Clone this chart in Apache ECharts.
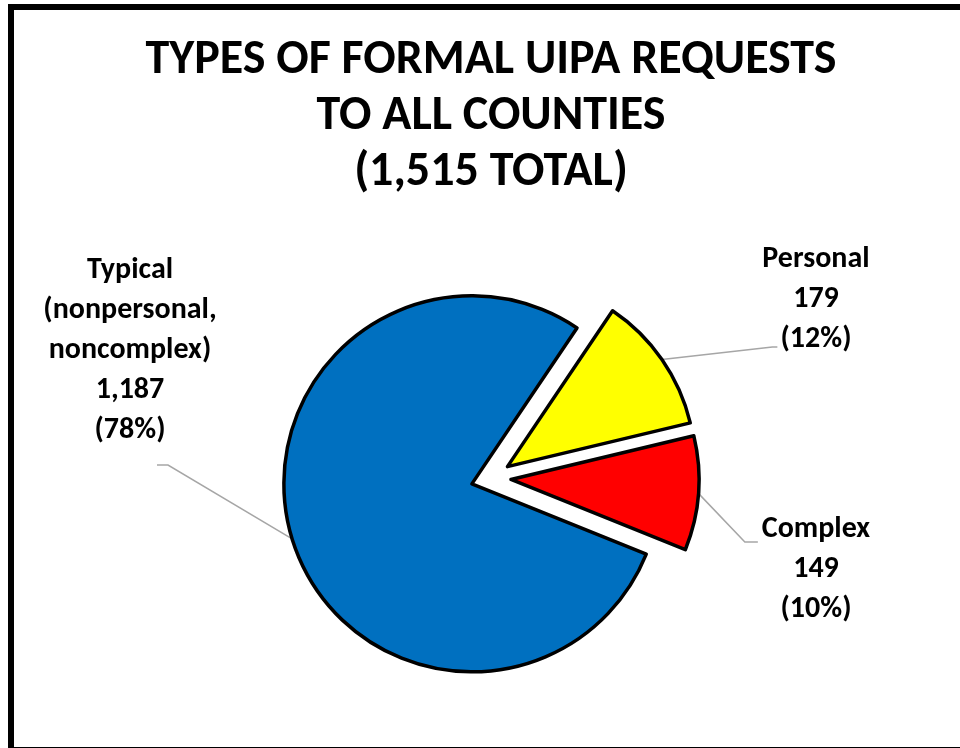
<!DOCTYPE html>
<html>
<head>
<meta charset="utf-8">
<script src="https://cdn.jsdelivr.net/npm/echarts@6/dist/echarts.min.js"></script>
<style>
  html, body { margin: 0; padding: 0; background: #fff; }
  #chart { width: 960px; height: 748px; }
</style>
</head>
<body>
<div id="chart"></div>
<script>
// data, in clockwise order starting from the top-right
const categories = ['Personal', 'Complex', 'Typical\n(nonpersonal,\nnoncomplex)'];
const counts = [179, 149, 1187];
const sliceColors = ['#ffff00', '#ff0000', '#0070c0'];
const titleText = 'TYPES OF FORMAL UIPA REQUESTS\nTO ALL COUNTIES\n(1,515 TOTAL)';

// where each label block sits (centre of the text)
const labelPos = [[816, 299], [816, 569], [130, 350]];

const FONT = 'Carlito, "Open Sans", sans-serif';
const CX = 491, CY = 478, R = 188, START = 56, EXPLODE = 20;

const chart = echarts.init(document.getElementById('chart'));

const total = counts.reduce(function (a, b) { return a + b; }, 0);

// leader line ends, worked out from the moved label box
function leaderEnds(i, r) {
  const left = r.x, top = r.y, bottom = r.y + r.height, cx = r.x + r.width / 2;
  if (i === 0) return [[left + 10, bottom - 12], [left + 15, bottom - 12]];
  if (i === 1) return [[left - 17, top + 33], [left - 4, top + 33]];
  return [[cx + 38, bottom + 15], [cx + 27, bottom + 15]];
}

// every slice is pulled out from the centre along its own mid angle,
// so each one gets its own pie series with the others left invisible
const series = [];
let before = 0;
counts.forEach(function (v, i) {
  const mid = (START - (before + v / 2) / total * 360) * Math.PI / 180;
  before += v;
  series.push({
    type: 'pie',
    z: 2,
    center: [CX + EXPLODE * Math.cos(mid), CY - EXPLODE * Math.sin(mid)],
    radius: R,
    startAngle: START,
    clockwise: true,
    avoidLabelOverlap: false,
    silent: true,
    emphasis: { disabled: true },
    label: {
      show: true,
      position: 'outside',
      fontFamily: FONT,
      fontWeight: 'bold',
      fontSize: 30,
      lineHeight: 40,
      color: '#000',
      align: 'center',
      formatter: function (p) {
        return p.name + '\n' + p.value.toLocaleString('en-US') + '\n(' + Math.round(p.percent) + '%)';
      }
    },
    labelLine: {
      show: true,
      length: 20,
      length2: 20,
      lineStyle: { color: '#a6a6a6', width: 1.5 }
    },
    labelLayout: function (params) {
      const p = labelPos[params.dataIndex];
      const w = params.labelRect.width, h = params.labelRect.height;
      const box = { x: p[0] - w / 2, y: p[1] - h / 2, width: w, height: h };
      const out = { x: p[0], y: p[1], align: 'center', verticalAlign: 'middle' };
      if (params.labelLinePoints) {
        const ends = leaderEnds(params.dataIndex, box);
        out.labelLinePoints = [params.labelLinePoints[0], ends[0], ends[1]];
      }
      return out;
    },
    data: categories.map(function (name, j) {
      if (j === i) {
        return {
          name: name,
          value: counts[j],
          itemStyle: { color: sliceColors[j], borderColor: '#000', borderWidth: 3.5 }
        };
      }
      return {
        name: name,
        value: counts[j],
        itemStyle: { color: 'rgba(0,0,0,0)', borderWidth: 0 },
        label: { show: false },
        labelLine: { show: false }
      };
    })
  });
});

chart.setOption({
  animation: false,
  backgroundColor: '#fff',
  graphic: [
    {
      type: 'rect',
      shape: { x: 11, y: 7, width: 1000, height: 743 },
      style: { fill: 'none', stroke: '#000', lineWidth: 6 },
      silent: true
    },
    {
      type: 'text',
      x: 491,
      y: 117,
      style: {
        text: titleText,
        textAlign: 'center',
        textVerticalAlign: 'middle',
        fontFamily: FONT,
        fontWeight: 'bold',
        fontSize: 48,
        lineHeight: 56,
        fill: '#000'
      },
      silent: true
    }
  ],
  series: series
});
</script>
</body>
</html>
